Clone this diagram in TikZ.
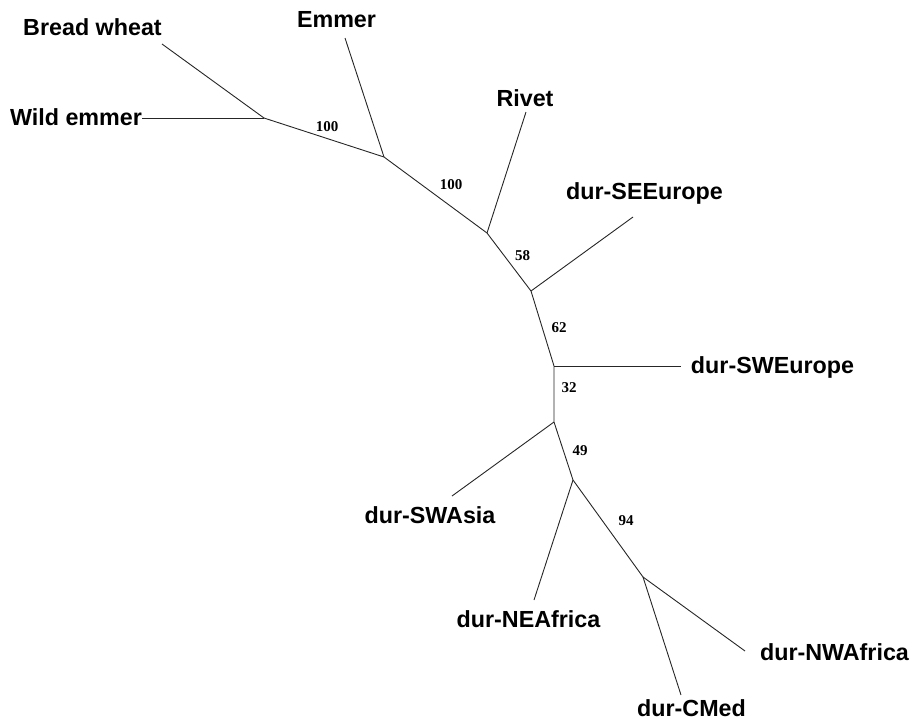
\documentclass[tikz,border=0pt]{standalone}
\usepackage{fontspec}
\setmainfont{Liberation Serif}
\newfontfamily\taxonfont{Liberation Sans}[BoldFont={* Bold}]
\begin{document}
\begin{tikzpicture}[x=1pt,y=-1pt,
  branch/.style={line width=0.9pt,draw=black!85},
  taxon/.style={inner sep=0pt,anchor=base,font=\taxonfont\bfseries\fontsize{23.3}{26}\selectfont},
  boot/.style={inner sep=0pt,font=\bfseries\fontsize{15}{17}\selectfont}]
  \useasboundingbox (0,0) rectangle (910,724);

  % internal branch points
  \coordinate (A) at (264,118);
  \coordinate (B) at (384,157);
  \coordinate (C) at (487,233);
  \coordinate (D) at (531,291);
  \coordinate (E) at (554,366);
  \coordinate (F) at (554,422);
  \coordinate (G) at (573,480);
  \coordinate (H) at (643,577);

  % tips of the terminal branches
  \coordinate (tBW) at (162,44);
  \coordinate (tWE) at (142,118);
  \coordinate (tEM) at (345,38);
  \coordinate (tRV) at (526,112);
  \coordinate (tSE) at (633,217);
  \coordinate (tSW) at (681,366);
  \coordinate (tSA) at (452,496);
  \coordinate (tNE) at (534,600);
  \coordinate (tNW) at (745,651);
  \coordinate (tCM) at (681,695);

  % backbone
  \draw[branch] (A) -- (B) -- (C) -- (D) -- (E) -- (F) -- (G) -- (H);
  % terminal branches
  \draw[branch] (A) -- (tBW);
  \draw[branch] (A) -- (tWE);
  \draw[branch] (B) -- (tEM);
  \draw[branch] (C) -- (tRV);
  \draw[branch] (D) -- (tSE);
  \draw[branch] (E) -- (tSW);
  \draw[branch] (F) -- (tSA);
  \draw[branch] (G) -- (tNE);
  \draw[branch] (H) -- (tNW);
  \draw[branch] (H) -- (tCM);

  % taxon labels
  \node[taxon] (bw) at (92.5,35)  {Bread wheat};
  \node[taxon] (we) at (76,125)   {Wild emmer};
  \node[taxon] (em) at (336.5,27) {Emmer};
  \node[taxon] (rv) at (525,106)  {Rivet};
  \node[taxon] (se) at (644.5,199) {dur-SEEurope};
  \node[taxon] (sw) at (772.5,373) {dur-SWEurope};
  \node[taxon] (sa) at (430,523)  {dur-SWAsia};
  \node[taxon] (ne) at (528.5,627) {dur-NEAfrica};
  \node[taxon] (nw) at (834.5,660) {dur-NWAfrica};
  \node[taxon] (cm) at (691.5,716.5) {dur-CMed};

  % bootstrap support values
  \node[boot] (b1) at (327,127) {100};
  \node[boot] (b2) at (451,185) {100};
  \node[boot] (b3) at (522.5,256) {58};
  \node[boot] (b4) at (559,328) {62};
  \node[boot] (b5) at (569,388) {32};
  \node[boot] (b6) at (580,451) {49};
  \node[boot] (b7) at (626,521) {94};
\end{tikzpicture}
\end{document}
